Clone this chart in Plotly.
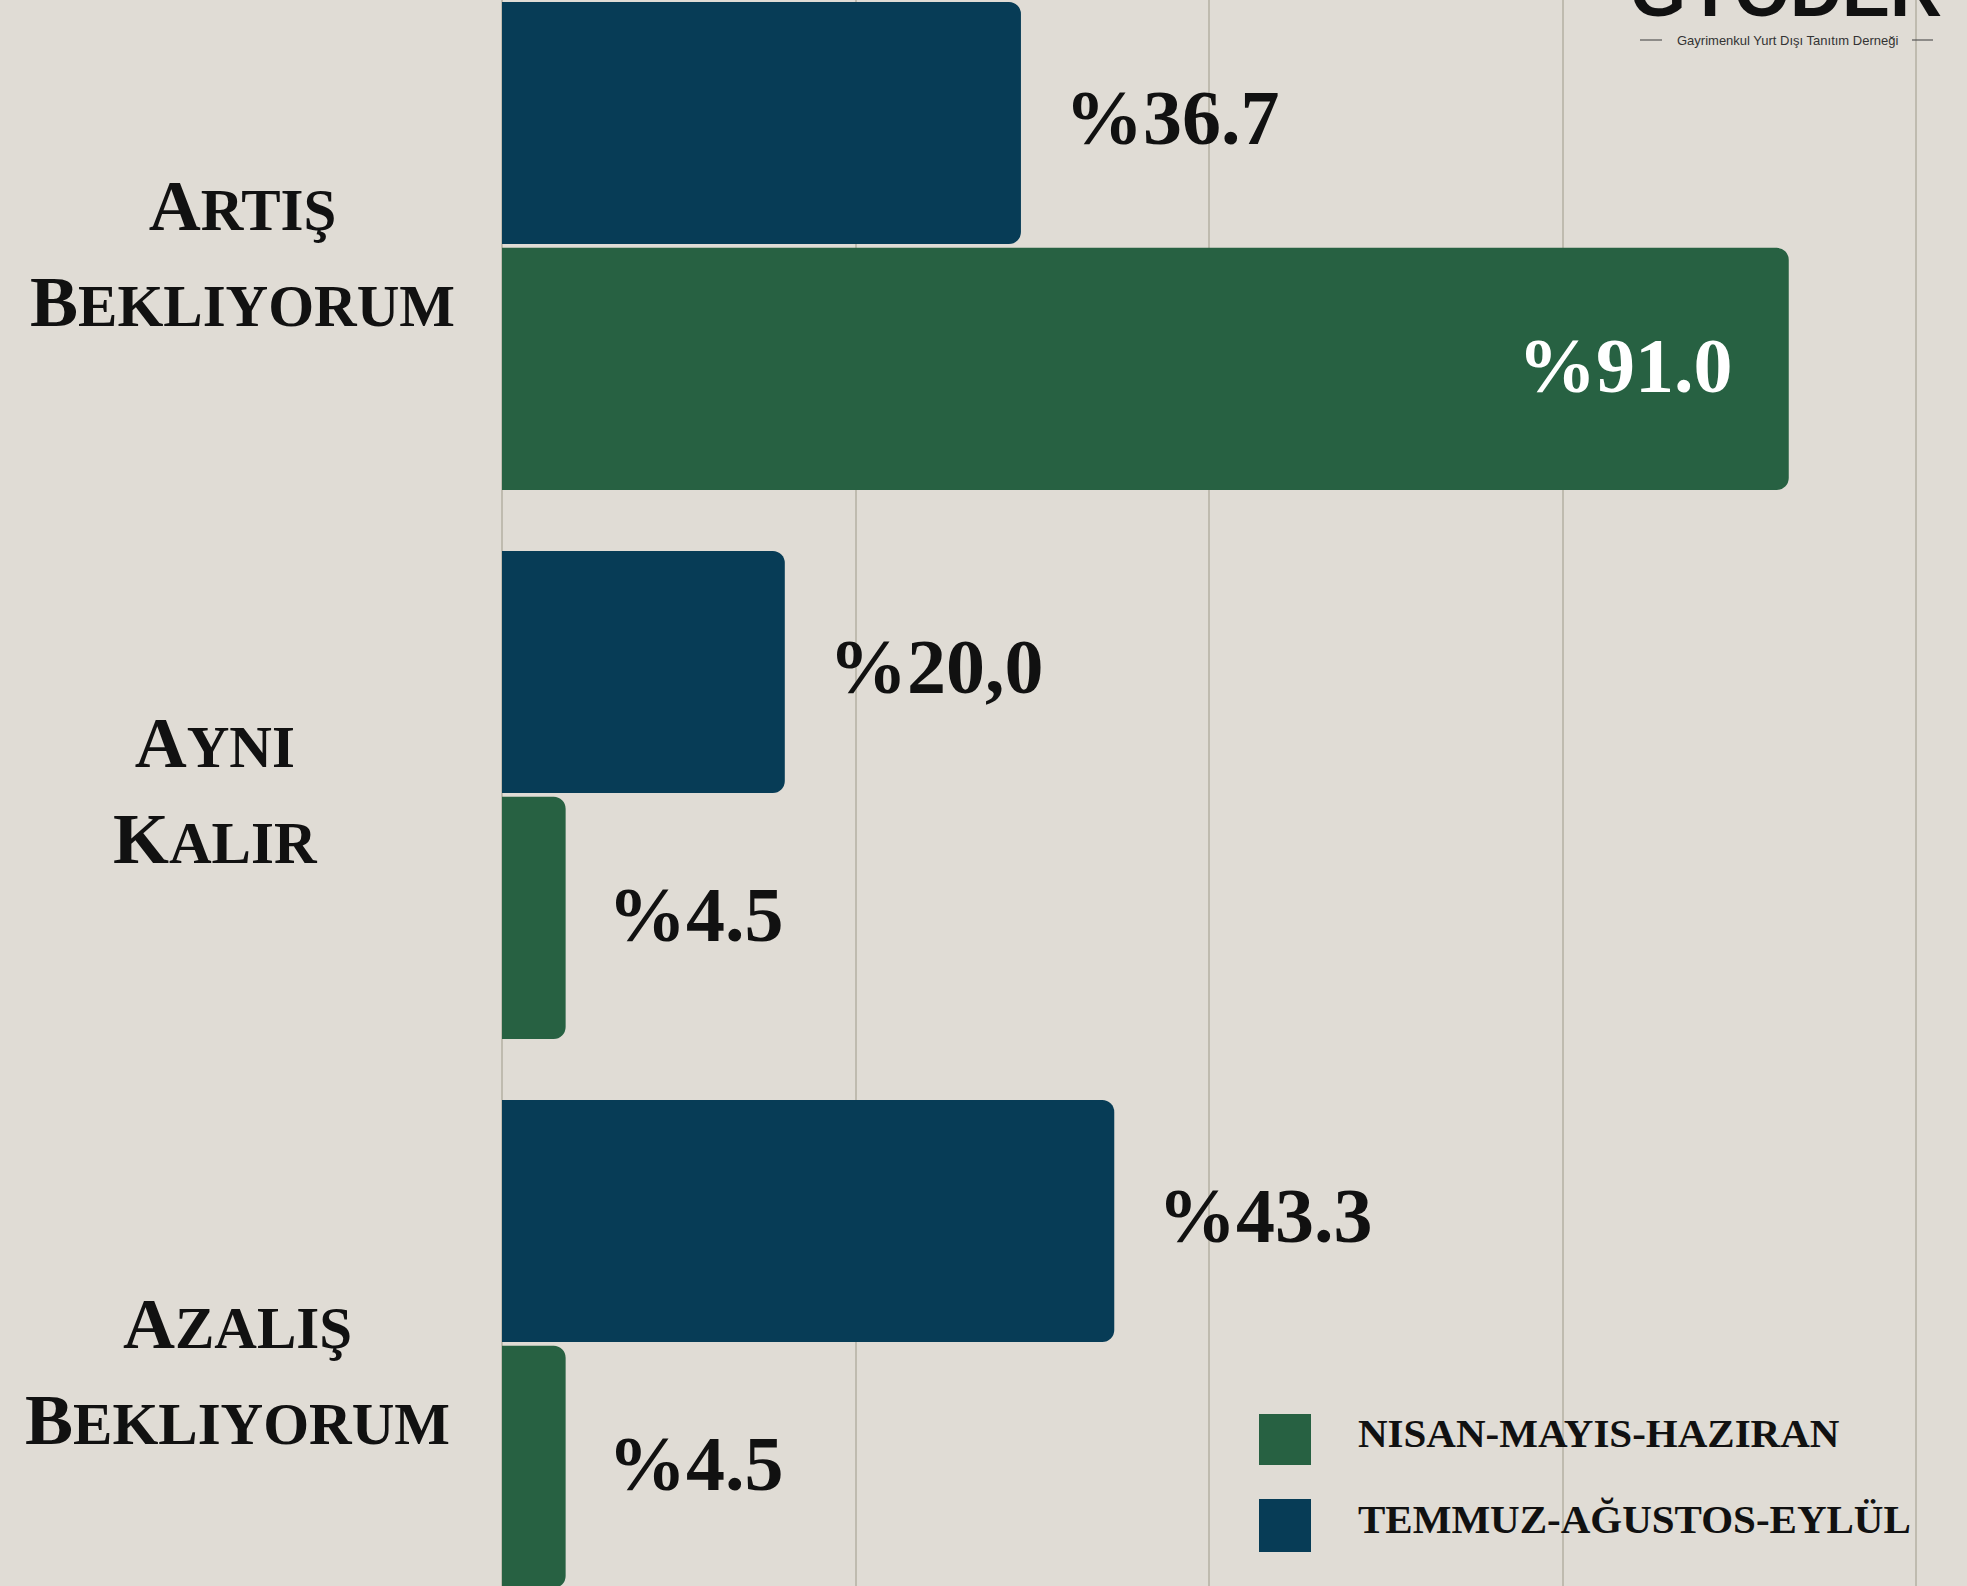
import plotly.graph_objects as go

# data
categories = ["Artış<br>Bekliyorum", "Aynı<br>Kalır", "Azalış<br>Bekliyorum"]
temmuz_vals = [36.7, 20.0, 43.3]      # Temmuz-Ağustos-Eylül
nisan_vals = [91.0, 4.5, 4.5]         # Nisan-Mayıs-Haziran
temmuz_text = ["%36.7", "%20,0", "%43.3"]
nisan_text = ["%91.0", "%4.5", "%4.5"]
series_names = ["NISAN-MAYIS-HAZIRAN", "TEMMUZ-AĞUSTOS-EYLÜL"]
grid_ticks = [0, 25, 50, 75, 100]

BG = "#E0DCD5"
BLUE = "#073C56"
GREEN = "#276142"
GRID = "#BFBBAF"

W, H = 1967, 1586
ML = 502
BAR_W = 0.441
OFF = 0.224


def small_caps(label, big=72, small=59):
    # fake small caps: first letter of each word large, the rest smaller
    lines = []
    for line in label.split("<br>"):
        words = []
        for w in line.split(" "):
            up = w.upper()
            words.append(f"<span style='font-size:{big}px'>{up[0]}</span>"
                         f"<span style='font-size:{small}px'>{up[1:]}</span>")
        lines.append(" ".join(words))
    return "<br>".join(lines)


def px(x):
    # figure pixel -> paper x (plot area starts at ML)
    return (x - ML) / (W - ML)


pos = list(range(len(categories)))
fig = go.Figure()
fig.add_trace(go.Bar(
    y=[p - OFF for p in pos], x=temmuz_vals, orientation="h", width=BAR_W,
    marker=dict(color=BLUE, cornerradius=12, line=dict(width=0)),
    name=series_names[1], hoverinfo="skip"))
fig.add_trace(go.Bar(
    y=[p + OFF for p in pos], x=nisan_vals, orientation="h", width=BAR_W,
    marker=dict(color=GREEN, cornerradius=12, line=dict(width=0)),
    name=series_names[0], hoverinfo="skip"))

num_font = dict(family="Liberation Serif", size=78, color="#111111", weight="bold")

# value labels
for p, v, t in zip(pos, temmuz_vals, temmuz_text):
    fig.add_annotation(x=v, y=p - OFF, text=t, showarrow=False, xanchor="left",
                       yanchor="middle", xshift=42, yshift=5, font=num_font)
for p, v, t in zip(pos, nisan_vals, nisan_text):
    if v > 50:
        fig.add_annotation(x=v, y=p + OFF, text=t, showarrow=False, xanchor="right",
                           yanchor="middle", xshift=-54, yshift=3,
                           font=dict(num_font, color="white"))
    else:
        fig.add_annotation(x=v, y=p + OFF, text=t, showarrow=False, xanchor="left",
                           yanchor="middle", xshift=40, yshift=3, font=num_font)

# category labels (centred, small caps)
label_x = [242, 215, 237]
label_dy = [-8, 4, -28]
for p, c, lx, dy in zip(pos, categories, label_x, label_dy):
    fig.add_annotation(x=px(lx), xref="paper", y=p, text=small_caps(c),
                       showarrow=False, xanchor="center", yanchor="middle",
                       align="center", yshift=dy,
                       font=dict(family="Liberation Serif", size=74, color="#111111",
                                 weight="bold"))

# legend
leg_font = dict(family="Liberation Serif", size=41, color="#111111", weight="bold")
for name, col, y0, y1 in [(series_names[0], GREEN, 1414, 1465),
                          (series_names[1], BLUE, 1499, 1552)]:
    fig.add_shape(type="rect", xref="paper", yref="paper",
                  x0=px(1259), x1=px(1311),
                  y0=1 - y1 / H, y1=1 - y0 / H, fillcolor=col, line_width=0)
    fig.add_annotation(x=px(1356), xref="paper", yref="paper",
                       y=1 - (y0 + y1) / 2 / H, text=name, showarrow=False,
                       xanchor="left", yanchor="middle", yshift=7, font=leg_font)

# logo, cut off at the top
fig.add_annotation(x=px(1786), xref="paper", y=1, yref="paper",
                   text="GYODER", showarrow=False, xanchor="center",
                   yanchor="bottom", yshift=-33,
                   font=dict(family="Liberation Sans", size=72, color="#111111",
                             weight="bold"))
fig.add_annotation(x=px(1787), xref="paper", y=1 - 40 / H, yref="paper",
                   text="Gayrimenkul Yurt Dışı Tanıtım Derneği", showarrow=False,
                   xanchor="center", yanchor="middle",
                   font=dict(family="Liberation Sans", size=13, color="#333333"))
for a, b in [(1640, 1662), (1912, 1933)]:
    fig.add_shape(type="line", xref="paper", yref="paper",
                  x0=px(a), x1=px(b),
                  y0=1 - 40 / H, y1=1 - 40 / H, line=dict(color="#555555", width=1.2))

fig.update_xaxes(range=[0, (W - ML) / 14.14], tickvals=grid_ticks, showticklabels=False,
                 showgrid=True, gridcolor=GRID, gridwidth=1.5, zeroline=True,
                 zerolinecolor=GRID, zerolinewidth=1.5, showline=False)
fig.update_yaxes(range=[2.441, -0.448], showticklabels=False, showgrid=False,
                 zeroline=False, showline=False)
fig.update_layout(width=W, height=H, margin=dict(l=ML, r=0, t=0, b=0),
                  paper_bgcolor=BG, plot_bgcolor=BG, showlegend=False,
                  barmode="overlay")

fig.write_html("out.html", config={"displayModeBar": False},
               post_script="document.body.style.margin='0';")
